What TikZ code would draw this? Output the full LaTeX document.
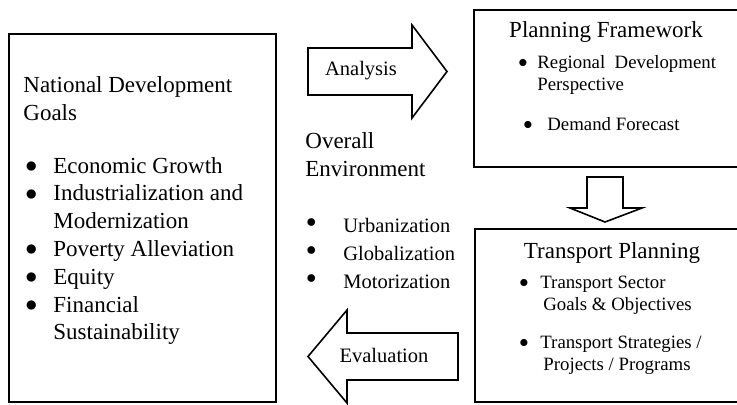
\documentclass[tikz,border=0pt]{standalone}
\usepackage{fontspec}
\setmainfont{Liberation Serif}
\usetikzlibrary{positioning}

\newcommand{\headfont}{\fontsize{11.5}{13.9}\selectfont}
\newcommand{\itemfont}{\fontsize{10.25}{14}\selectfont}
\newcommand{\smallfont}{\fontsize{9.4}{11}\selectfont}
\newcommand{\bul}{\raisebox{0.3pt}{$\bullet$}}
% bullet list: #1 = indent of the text, #2 = rows
\newcommand{\dotlist}[2]{\begin{tabular}[t]{@{}p{#1}@{}l@{}}#2\end{tabular}}

\tikzstyle{box} = [draw, rectangle, line width=1pt, anchor=north west, inner sep=0pt]
\tikzstyle{txt} = [anchor=base west, inner sep=0pt, align=left]
\tikzstyle{blockarrow} = [draw, line width=0.8pt, line join=miter]

\begin{document}
\begin{tikzpicture}[x=0.5pt, y=-0.5pt, color=black]
  \useasboundingbox (0,0) rectangle (737,404);
  \clip (0,0) rectangle (737,404);

  % the three boxes
  \node [box, minimum width=133.5pt, minimum height=184pt] (goals) at (8,33) {};
  \node [box, minimum width=133.5pt, minimum height=78.5pt] (framework) at (473,9) {};
  \node [box, minimum width=133pt, minimum height=86.5pt] (planning) at (474,228) {};

  % national goals (base = last line)
  \node [txt, font=\headfont] (goalstitle) at (23,120) {National Development\\Goals};
  \node [txt, font=\headfont] (goallist) at (25,173) {\dotlist{14pt}{%
    \bul & Economic Growth\\
    \bul & Industrialization and\\
         & Modernization\\
    \bul & Poverty Alleviation\\
    \bul & Equity\\
    \bul & Financial\\
         & Sustainability}};

  % environment in the middle
  \node [txt, font=\headfont] (envtitle) at (305,176) {Overall\\Environment};
  \node [txt, font=\itemfont] (envlist) at (306,232) {\dotlist{18.5pt}{%
    \raisebox{2.5pt}{$\bullet$} & Urbanization\\
    \raisebox{2.5pt}{$\bullet$} & Globalization\\
    \raisebox{2.5pt}{$\bullet$} & Motorization}};

  % planning framework
  \node [anchor=base, inner sep=0pt, font=\headfont] (fwtitle) at (606,37) {Planning Framework};
  \node [txt, font=\smallfont] (fwone) at (518,68) {\dotlist{9.5pt}{%
    \bul & Regional~ Development\\
         & Perspective}};
  \node [txt, font=\smallfont] (fwtwo) at (523,130) {\dotlist{12pt}{%
    \bul & Demand Forecast}};

  % transport planning
  \node [anchor=base, inner sep=0pt, font=\headfont] (tptitle) at (612,258) {Transport Planning};
  \node [txt, font=\smallfont] (tplist) at (519,288) {\dotlist{10.5pt}{%
    \bul & Transport Sector\\
         & \hspace{1.5pt}Goals \& Objectives\\[8pt]
    \bul & Transport Strategies /\\
         & \hspace{1.5pt}Projects / Programs}};

  % block arrows
  \draw [blockarrow] (308,48) -- (412,48) -- (412,25) -- (447,71.5)
    -- (412,118) -- (412,95) -- (308,95) -- cycle;
  \node [font=\itemfont, inner sep=0pt] (analysis) at (361,71) {Analysis};

  \draw [blockarrow] (458,333) -- (347,333) -- (347,310) -- (308,356.5)
    -- (347,403) -- (347,380) -- (458,380) -- cycle;
  \node [font=\itemfont, inner sep=0pt] (evaluation) at (384,355) {Evaluation};

  \draw [blockarrow] (587,177) -- (623,177) -- (623,208) -- (642,208)
    -- (605,222) -- (570,208) -- (587,208) -- cycle;
\end{tikzpicture}
\end{document}
